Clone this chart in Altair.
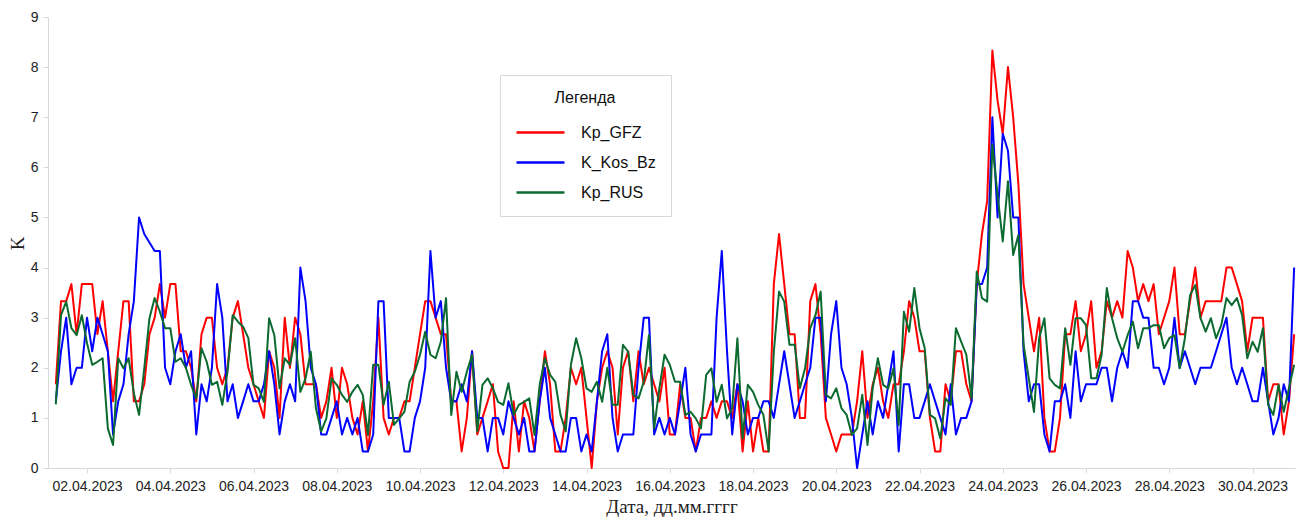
import altair as alt
import pandas as pd

series_names = ["Kp_GFZ", "K_Kos_Bz", "Kp_RUS"]
series_colors = ["#FF0000", "#0000FF", "#0B6A30"]

kp_gfz = [
    1.67, 3.33, 3.33, 3.67, 2.67, 3.67, 3.67, 3.67, 2.67, 3.33,
    2.33, 1.33, 2.33, 3.33, 3.33, 1.33, 1.33, 1.67, 2.67, 3.0,
    3.67, 3.0, 3.67, 3.67, 2.33, 2.33, 2.0, 1.33, 2.67, 3.0,
    3.0, 2.0, 1.67, 2.0, 3.0, 3.33, 2.67, 2.0, 1.67, 1.33,
    1.0, 2.33, 2.0, 1.0, 3.0, 2.0, 3.0, 2.67, 1.67, 1.67,
    1.67, 1.0, 1.33, 2.0, 1.0, 2.0, 1.67, 1.0, 0.67, 1.33,
    0.33, 1.33, 3.0, 1.0, 0.67, 1.0, 1.0, 1.33, 1.33, 2.0,
    2.67, 3.33, 3.33, 3.0, 2.67, 2.67, 1.33, 1.33, 0.33, 1.0,
    2.33, 0.67, 1.0, 1.33, 1.67, 0.33, 0.0, 0.0, 1.33, 0.33,
    1.33, 1.0, 0.33, 1.33, 2.33, 1.67, 0.33, 0.33, 1.0, 2.0,
    1.67, 2.0, 1.0, 0.0, 1.33, 2.0, 2.33, 2.0, 0.67, 2.0,
    2.33, 1.33, 2.33, 1.67, 2.0, 1.67, 1.33, 2.0, 0.67, 0.67,
    1.67, 1.0, 1.0, 0.33, 1.0, 1.0, 1.33, 1.0, 1.33, 1.33,
    1.0, 1.67, 0.33, 1.33, 0.33, 1.0, 0.33, 0.33, 3.67, 4.67,
    3.67, 2.67, 2.67, 1.0, 1.0, 3.33, 3.67, 2.67, 1.0, 0.67,
    0.33, 0.67, 0.67, 0.67, 1.33, 2.33, 1.0, 1.67, 2.0, 1.33,
    1.0, 1.67, 1.67, 2.33, 3.33, 3.0, 2.33, 2.33, 1.0, 0.33,
    0.33, 1.67, 1.33, 2.33, 2.33, 1.67, 1.33, 3.67, 4.67, 5.33,
    8.33, 7.33, 6.67, 8.0, 7.0, 5.67, 3.67, 3.0, 2.33, 3.0,
    1.0, 0.33, 0.33, 1.0, 2.67, 2.67, 3.33, 2.33, 2.67, 3.33,
    2.0, 2.33, 3.33, 3.0, 3.33, 3.0, 4.33, 4.0, 3.33, 3.67,
    3.33, 3.67, 2.67, 3.0, 3.33, 4.0, 2.67, 2.67, 3.33, 4.0,
    3.0, 3.33, 3.33, 3.33, 3.33, 4.0, 4.0, 3.67, 3.33, 2.33,
    3.0, 3.0, 3.0, 1.33, 1.67, 1.67, 0.67, 1.33, 2.67,
]

k_kos_bz = [
    1.33, 2.33, 3.0, 1.67, 2.0, 2.0, 3.0, 2.33, 3.0, 2.67,
    2.33, 0.67, 1.33, 1.67, 2.67, 3.33, 5.0, 4.67, 4.5, 4.33,
    4.33, 2.0, 1.67, 2.33, 2.67, 2.0, 2.33, 0.67, 1.67, 1.33,
    2.0, 3.67, 3.0, 1.33, 1.67, 1.0, 1.33, 1.67, 1.33, 1.33,
    1.67, 2.33, 1.67, 0.67, 1.33, 1.67, 1.33, 4.0, 3.33, 2.0,
    1.67, 0.67, 0.67, 1.0, 1.33, 0.67, 1.0, 0.67, 1.0, 0.33,
    0.33, 0.67, 3.33, 3.33, 1.0, 1.0, 1.0, 0.33, 0.33, 1.0,
    1.33, 2.0, 4.33, 3.0, 3.33, 2.0, 1.33, 1.33, 1.67, 1.33,
    2.33, 1.0, 1.0, 0.33, 1.0, 1.0, 0.67, 1.33, 1.0, 0.67,
    1.0, 0.33, 0.33, 1.33, 2.0, 1.0, 0.67, 0.33, 0.33, 1.0,
    1.0, 0.33, 0.67, 0.33, 1.33, 2.33, 2.67, 1.0, 0.33, 0.67,
    0.67, 0.67, 2.0, 3.0, 3.0, 0.67, 1.0, 0.67, 1.0, 0.67,
    1.33, 2.0, 0.67, 0.33, 0.67, 0.67, 0.67, 3.0, 4.33, 2.33,
    0.67, 1.67, 1.33, 0.67, 1.0, 1.0, 1.33, 1.33, 1.0, 1.67,
    2.33, 1.67, 1.0, 1.33, 1.67, 2.0, 3.0, 3.0, 1.33, 2.67,
    3.33, 2.0, 1.67, 1.0, 0.0, 0.67, 1.33, 0.67, 1.33, 1.0,
    1.67, 2.33, 0.33, 1.67, 1.67, 1.0, 1.0, 1.33, 1.67, 1.33,
    1.0, 0.67, 1.67, 0.67, 1.0, 1.0, 1.33, 3.67, 3.67, 4.0,
    7.0, 5.0, 6.67, 6.33, 5.0, 5.0, 2.33, 1.33, 1.67, 1.67,
    0.67, 0.33, 1.33, 1.33, 1.67, 1.0, 2.33, 1.33, 1.67, 1.67,
    1.67, 2.0, 2.0, 1.33, 2.0, 2.33, 2.0, 3.33, 3.33, 3.0,
    3.0, 2.0, 2.0, 1.67, 2.0, 3.0, 2.0, 2.33, 2.0, 1.67,
    2.0, 2.0, 2.0, 2.33, 2.67, 3.0, 2.0, 1.67, 2.0, 1.67,
    1.33, 1.33, 2.0, 1.33, 0.67, 1.0, 1.67, 1.33, 4.0,
]

kp_rus = [
    1.27, 3.05, 3.32, 2.79, 2.65, 3.05, 2.49, 2.06, 2.12, 2.19,
    0.79, 0.46, 2.19, 1.99, 2.19, 1.49, 1.06, 1.99, 2.99, 3.39,
    3.12, 2.79, 2.79, 2.12, 2.19, 2.0, 1.66, 1.39, 2.39, 2.12,
    1.66, 1.72, 1.26, 1.92, 3.05, 2.92, 2.82, 2.59, 1.66, 1.59,
    1.32, 2.99, 2.65, 1.59, 2.19, 2.06, 2.59, 1.52, 1.79, 2.32,
    1.19, 0.73, 0.99, 1.79, 1.66, 1.46, 1.32, 1.52, 1.66, 1.46,
    0.66, 2.06, 2.06, 1.26, 1.72, 0.86, 0.99, 1.12, 1.72, 1.92,
    2.26, 2.72, 2.26, 2.19, 2.52, 3.39, 1.06, 1.92, 1.52, 1.92,
    2.26, 0.73, 1.66, 1.79, 1.59, 1.32, 1.26, 1.69, 1.06, 1.26,
    1.32, 1.39, 0.66, 1.66, 2.19, 1.86, 1.72, 1.06, 0.73, 2.06,
    2.59, 2.19, 1.59, 1.52, 1.72, 1.32, 2.0, 1.26, 1.26, 2.46,
    2.32, 1.46, 1.39, 1.72, 2.65, 0.79, 1.59, 2.26, 2.06, 1.72,
    1.72, 1.06, 1.12, 0.99, 0.79, 1.86, 1.99, 1.32, 1.66, 0.99,
    1.19, 2.59, 0.59, 1.66, 1.52, 1.26, 1.06, 0.33, 2.32, 3.52,
    3.32, 2.46, 2.46, 1.59, 1.99, 2.79, 3.05, 3.52, 1.46, 1.39,
    1.59, 1.19, 1.06, 0.66, 0.79, 1.46, 0.46, 1.59, 2.19, 1.66,
    1.59, 1.99, 0.86, 3.12, 2.72, 3.59, 2.79, 2.39, 1.06, 0.99,
    0.59, 1.39, 1.26, 2.79, 2.52, 2.26, 1.39, 3.92, 3.39, 3.32,
    6.45, 5.45, 4.52, 5.72, 4.25, 4.65, 2.46, 1.79, 1.12, 2.59,
    2.99, 1.79, 1.66, 1.59, 2.79, 2.06, 2.99, 2.99, 2.85, 1.79,
    1.79, 2.26, 3.59, 2.99, 2.59, 2.32, 2.65, 2.92, 2.39, 2.79,
    2.79, 2.85, 2.85, 2.39, 2.59, 2.65, 1.99, 2.59, 3.45, 3.65,
    2.99, 2.72, 2.99, 2.59, 2.85, 3.39, 3.25, 3.39, 3.05, 2.19,
    2.52, 2.32, 2.79, 1.26, 1.06, 1.66, 1.12, 1.59, 2.06,
]

n = min(len(kp_gfz), len(k_kos_bz), len(kp_rus))
times = pd.date_range("2023-04-01 06:00", periods=n, freq="3h")
time_str = [t.strftime("%Y-%m-%dT%H:%M:%SZ") for t in times]

rows = []
for name, vals in zip(series_names, [kp_gfz, k_kos_bz, kp_rus]):
    for t, v in zip(time_str, vals[:n]):
        rows.append({"t": t, "K": v, "series": name})
df = pd.DataFrame(rows)

tick_dates = [alt.DateTime(year=2023, month=4, date=d, utc=True) for d in range(2, 31, 2)]

x_enc = alt.X(
    "t:T",
    scale=alt.Scale(
        type="utc",
        domain=[
            alt.DateTime(year=2023, month=4, date=1, hours=1, minutes=30, utc=True),
            alt.DateTime(year=2023, month=5, date=1, hours=0, minutes=30, utc=True),
        ],
        nice=False,
    ),
    axis=alt.Axis(
        values=tick_dates,
        labelExpr="utcFormat(datum.value, '%d.%m.%Y')",
        title="Дата, дд.мм.гггг",
        titleFont="Liberation Serif",
        titleFontSize=19,
        titleFontWeight="normal",
        titleColor="#222222",
        titlePadding=4,
        labelFont="Liberation Sans",
        labelFontSize=14,
        labelColor="#222222",
        labelPadding=6,
        labelFlush=False,
        labelOverlap=False,
        grid=False,
        domainColor="#d9d9d9",
        tickColor="#d9d9d9",
        tickSize=5,
    ),
)

y_enc = alt.Y(
    "K:Q",
    scale=alt.Scale(domain=[0, 9], nice=False),
    axis=alt.Axis(
        values=list(range(0, 10)),
        title="K",
        titleFont="Liberation Serif",
        titleFontSize=19,
        titleFontWeight="normal",
        titleColor="#222222",
        titleX=-21,
        titleY=226,
        labelFont="Liberation Sans",
        labelFontSize=14,
        labelColor="#222222",
        labelPadding=5,
        grid=False,
        domainColor="#d9d9d9",
        tickColor="#d9d9d9",
        tickSize=5,
    ),
)

color_enc = alt.Color(
    "series:N",
    scale=alt.Scale(domain=series_names, range=series_colors),
    legend=alt.Legend(
        orient="none",
        legendX=452,
        legendY=58,
        title="Легенда",
        titleFont="Liberation Sans",
        titleFontSize=16,
        titleFontWeight="normal",
        titleColor="#111111",
        titleAnchor="middle",
        titlePadding=17,
        labelFont="Liberation Sans",
        labelFontSize=16,
        labelColor="#111111",
        labelOffset=47,
        symbolType="M-1,0H5",
        symbolSize=256,
        symbolStrokeWidth=2.5,
        rowPadding=12,
        padding=15,
        strokeColor="#d9d9d9",
        fillColor="white",
    ),
)

layers = []
for name in series_names:
    layers.append(
        alt.Chart(df)
        .transform_filter(alt.datum.series == name)
        .mark_line(strokeWidth=2, strokeJoin="round")
        .encode(x=x_enc, y=y_enc, color=color_enc)
    )

chart = (
    alt.layer(*layers)
    .properties(
        width=1247,
        height=451,
        autosize=alt.AutoSizeParams(type="none"),
        padding={"left": 48, "top": 17, "right": 10, "bottom": 52},
        background="white",
    )
    .configure_view(stroke=None)
)

chart.save("out.html", embed_options={"renderer": "svg", "actions": False})
